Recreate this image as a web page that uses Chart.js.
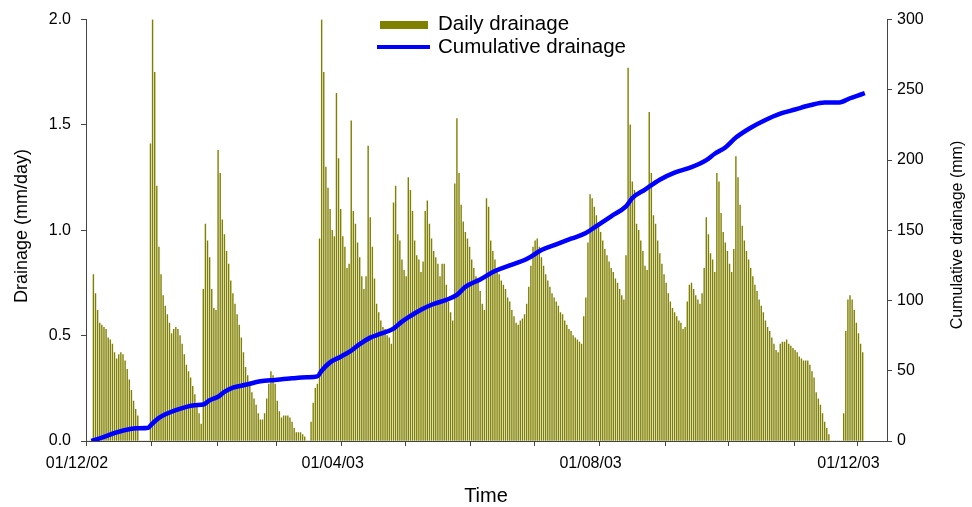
<!DOCTYPE html>
<html>
<head>
<meta charset="utf-8">
<title>Drainage</title>
<script src="https://cdn.jsdelivr.net/npm/chart.js@4.4.0/dist/chart.umd.min.js"></script>
<style>
    html, body { margin: 0; padding: 0; background: #fff; }
    #wrap { position: relative; width: 972px; height: 507px; }
</style>
</head>
<body>
<div id="wrap"><canvas id="chartDrainage"></canvas></div>
<script>
// Daily drainage (mm/day), one value per day, month by month from 01/12/02
const dec02 = [0, 0, 0, 0.79, 0.70, 0.62, 0.56, 0.55, 0.54, 0.53, 0.49, 0.48, 0.46, 0.42, 0.39, 0.41,
    0.42, 0.41, 0.38, 0.34, 0.29, 0.24, 0.19, 0.15, 0.12, 0, 0, 0, 0, 0, 1.41];
const jan03 = [2.0, 1.75, 1.21, 0.92, 0.79, 0.69, 0.64, 0.60, 0.56, 0.51, 0.53, 0.54, 0.53, 0.50, 0.46, 0.41,
    0.36, 0.33, 0.30, 0.26, 0.22, 0.17, 0.13, 0.08, 0.72, 1.03, 0.95, 0.87, 0.72, 0.63, 0.62];
const feb03 = [1.38, 1.27, 1.05, 0.98, 0.90, 0.84, 0.76, 0.70, 0.65, 0.60, 0.55, 0.49, 0.42, 0.35, 0.31, 0.28,
    0.23, 0.20, 0.17, 0.13, 0.10, 0.10, 0.13, 0.20, 0.27, 0.33, 0.31, 0.27];
const mar03 = [0.19, 0.14, 0.11, 0.12, 0.12, 0.12, 0.11, 0.09, 0.06, 0.04, 0.04, 0.04, 0.03, 0.02, 0, 0,
    0.09, 0.18, 0.25, 0.27, 0.96, 2.0, 1.75, 1.30, 1.20, 1.10, 1.00, 0.97, 1.65, 1.34, 1.10];
const apr03 = [0.97, 0.92, 0.82, 0.84, 1.52, 1.09, 1.03, 0.94, 0.87, 0.78, 0.72, 0.78, 1.40, 1.06, 0.92, 0.77,
    0.65, 0.61, 0.57, 0.54, 0.53, 0.50, 0.49, 0.46, 1.13, 1.21, 0.98, 0.95, 0.86, 0.81];
const may03 = [0.78, 1.25, 1.19, 1.09, 0.95, 0.88, 0.86, 0.80, 0.85, 1.09, 1.14, 1.03, 0.96, 0.90, 0.87, 0.84,
    0.78, 0.84, 0.84, 0.74, 0.66, 0.61, 0.57, 1.22, 1.53, 1.27, 1.12, 1.04, 0.99, 0.96, 0.92];
const jun03 = [0.86, 0.82, 0.78, 0.75, 0.71, 0.65, 0.62, 1.15, 1.11, 0.95, 0.90, 0.86, 0.82, 0.79, 0.76, 0.74,
    0.72, 0.68, 0.66, 0.62, 0.59, 0.56, 0.55, 0.57, 0.58, 0.60, 0.65, 0.73, 0.83, 0.92];
const jul03 = [0.95, 0.96, 0.92, 0.87, 0.83, 0.79, 0.76, 0.73, 0.70, 0.68, 0.66, 0.64, 0.61, 0.60, 0.57, 0.55,
    0.53, 0.52, 0.50, 0.49, 0.48, 0.47, 0.46, 0.59, 0.68, 0.94, 1.17, 1.15, 1.11, 1.07, 1.03];
const aug03 = [0.99, 0.95, 0.91, 0.88, 0.85, 0.82, 0.80, 0.77, 0.75, 0.72, 0.69, 0.67, 0.88, 1.77, 1.50, 1.23,
    1.19, 1.03, 1.00, 0.95, 0.90, 0.83, 0.81, 1.56, 1.27, 1.07, 1.03, 0.95, 0.89, 0.84, 0.79];
const sep03 = [0.75, 0.70, 0.66, 0.63, 0.61, 0.59, 0.57, 0.56, 0.53, 0.54, 0.66, 0.74, 0.75, 0.72, 0.69, 0.67,
    0.65, 0.70, 0.82, 1.06, 0.98, 0.89, 0.86, 0.80, 1.27, 1.23, 1.08, 0.99, 0.94, 0.90];
const oct03 = [0.84, 0.80, 0.91, 1.35, 1.25, 1.12, 1.02, 0.95, 0.90, 0.86, 0.82, 0.78, 0.74, 0.71, 0.67, 0.64,
    0.61, 0.57, 0.54, 0.52, 0.49, 0.46, 0.43, 0.42, 0.46, 0.47, 0.47, 0.48, 0.46, 0.45, 0.44];
const nov03 = [0.43, 0.42, 0.40, 0.39, 0.38, 0.38, 0.38, 0.36, 0.33, 0.30, 0.23, 0.20, 0.17, 0.13, 0.09, 0.06,
    0.03, 0, 0, 0, 0, 0, 0, 0.13, 0.52, 0.67, 0.69, 0.67, 0.62, 0.56];
const dec03 = [0.51, 0.46, 0.42];

// Cumulative drainage (mm) at these days (day 0 = 01/12/02)
const cumDays = [2, 23, 29, 30, 34, 42, 51, 55, 58, 62, 65, 69, 75, 82, 89, 97, 104, 109, 111, 115,
    120, 125, 129, 134, 139, 145, 149, 153, 158, 163, 170, 175, 179, 186, 193, 200, 208, 215, 222, 229,
    236, 241, 248, 255, 258, 264, 271, 278, 286, 293, 297, 302, 307, 314, 321, 328, 335, 342, 349, 356,
    361, 365, 368];
const cumDrainage = [0, 9, 9.5, 11, 16.5, 22, 25.5, 26, 29, 31.5, 35, 38, 40, 42.5, 43.5, 44.6, 45.3, 46, 50, 56,
    60, 64.4, 69, 73.6, 76.4, 80, 85, 89, 93.4, 97, 100.5, 104, 109.7, 115, 121, 125, 129.5, 136, 140, 144,
    148, 153, 160, 167, 173, 179, 186, 191, 195, 200, 204.5, 209, 216, 223, 228.5, 233, 236, 239, 241, 241,
    244, 246, 247.6];

// Month starts carry a tick mark, four of them carry a date label
const monthStarts = [0, 31, 62, 90, 121, 151, 182, 212, 243, 274, 304, 335, 365];
const labelDays = [0, 121, 243, 365];
const labelText = ['01/12/02', '01/04/03', '01/08/03', '01/12/03'];

const dailyDrainage = [].concat(dec02, jan03, feb03, mar03, apr03, may03, jun03, jul03, aug03, sep03, oct03, nov03, dec03);

const FONT = "'Liberation Sans', Arial, sans-serif";
const AXIS = '#444';
const OLIVE = '#808000';
const BLUE = '#0000ff';

Chart.defaults.font.family = FONT;
Chart.defaults.color = '#000';

// Legend and axis titles drawn by hand (right title reads bottom to top)
const overlay = {
    id: 'overlay',
    afterDraw(chart) {
        const c = chart.ctx;
        c.save();
        c.fillStyle = OLIVE;
        c.fillRect(380, 21, 48, 8);
        c.strokeStyle = BLUE;
        c.lineWidth = 4;
        c.beginPath();
        c.moveTo(377, 47);
        c.lineTo(430, 47);
        c.stroke();
        c.fillStyle = '#000';
        c.textBaseline = 'middle';
        c.textAlign = 'left';
        c.font = '20.5px ' + FONT;
        c.fillText('Daily drainage', 438, 24);
        c.fillText('Cumulative drainage', 438, 47);

        c.textAlign = 'center';
        c.font = '20px ' + FONT;
        c.fillText('Time', 486, 496);
        c.font = '18px ' + FONT;
        c.translate(22, 226);
        c.rotate(-Math.PI / 2);
        c.fillText('Drainage (mm/day)', 0, 0);
        c.restore();

        c.save();
        c.fillStyle = '#000';
        c.textAlign = 'center';
        c.textBaseline = 'middle';
        c.font = '16px ' + FONT;
        c.translate(958, 235);
        c.rotate(-Math.PI / 2);
        c.fillText('Cumulative drainage (mm)', 0, 0);
        c.restore();
    }
};

const ctx = document.getElementById('chartDrainage').getContext('2d');
new Chart(ctx, {
    type: 'bar',
    data: {
        datasets: [{
            type: 'line',
            label: 'Cumulative drainage',
            data: cumDays.map((d, i) => ({ x: d, y: cumDrainage[i] })),
            yAxisID: 'y2',
            borderColor: BLUE,
            borderWidth: 4.5,
            pointRadius: 0,
            cubicInterpolationMode: 'monotone',
            order: 0
        }, {
            type: 'bar',
            label: 'Daily drainage',
            data: dailyDrainage.map((v, i) => ({ x: i, y: v })),
            yAxisID: 'y',
            backgroundColor: OLIVE,
            barThickness: 0.75,
            order: 1
        }]
    },
    options: {
        responsive: true,
        maintainAspectRatio: false,
        animation: false,
        layout: { padding: { top: 17, left: 0, right: 0, bottom: 0 } },
        plugins: { legend: { display: false }, tooltip: { enabled: false } },
        scales: {
            x: {
                type: 'linear',
                min: -0.5,
                max: 378.5,
                offset: false,
                afterBuildTicks: s => { s.ticks = monthStarts.map(d => ({ value: d - 0.5 })); },
                afterFit: s => { s.height = 66; },
                ticks: {
                    autoSkip: false,
                    maxRotation: 0,
                    padding: 8,
                    labelOffset: -9,
                    font: { size: 16 },
                    callback: v => {
                        const k = labelDays.indexOf(Math.round(v + 0.5));
                        return k >= 0 ? labelText[k] : '';
                    }
                },
                grid: { drawOnChartArea: false, offset: false, tickLength: 5, color: AXIS },
                border: { color: AXIS }
            },
            y: {
                position: 'left',
                min: 0,
                max: 2,
                afterFit: s => { s.width = 86; },
                ticks: { stepSize: 0.5, padding: 10, font: { size: 16 }, callback: v => v.toFixed(1) },
                grid: { drawOnChartArea: false, tickLength: 5, color: AXIS },
                border: { color: AXIS }
            },
            y2: {
                position: 'right',
                min: 0,
                max: 300,
                afterFit: s => { s.width = 85; },
                ticks: { stepSize: 50, padding: 5, font: { size: 16 } },
                grid: { drawOnChartArea: false, tickLength: 5, color: AXIS },
                border: { color: AXIS }
            }
        }
    },
    plugins: [overlay]
});
</script>
</body>
</html>
